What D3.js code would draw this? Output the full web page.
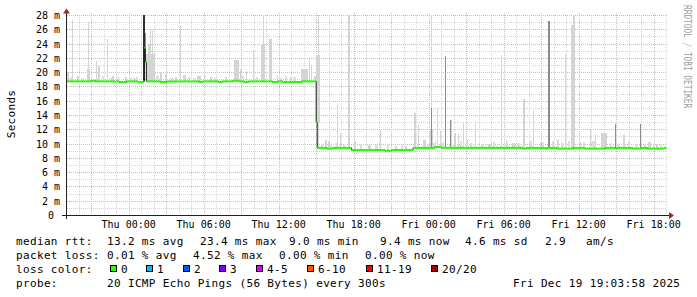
<!DOCTYPE html>
<html><head><meta charset="utf-8">
<script src="https://cdn.jsdelivr.net/npm/d3@7/dist/d3.min.js"></script>
<style>
html,body{margin:0;padding:0;background:#fff;}
svg{display:block;}
text{font-family:"DejaVu Sans Mono",monospace;fill:#000;white-space:pre;}
</style></head><body>
<svg id="c" width="697" height="297"></svg>
<script>
// ---------------- DATA ----------------
const timeRange = ["2025-12-17T19:03:58Z", "2025-12-19T19:03:58Z"];
const yTickValues = [0, 2, 4, 6, 8, 10, 12, 14, 16, 18, 20, 22, 24, 26, 28];
const yTickLabels = ["0 ", "2 m", "4 m", "6 m", "8 m", "10 m", "12 m", "14 m", "16 m", "18 m", "20 m", "22 m", "24 m", "26 m", "28 m"];

// median RTT (ms), step values starting at the given time (UTC)
const medianTimes = [
 "2025-12-17T19:04","2025-12-17T21:00","2025-12-17T21:20","2025-12-17T23:15","2025-12-17T23:50",
 "2025-12-18T00:45","2025-12-18T01:10","2025-12-18T01:15","2025-12-18T01:20","2025-12-18T01:25",
 "2025-12-18T02:30","2025-12-18T03:05","2025-12-18T05:40","2025-12-18T05:55","2025-12-18T07:10",
 "2025-12-18T07:30","2025-12-18T08:20","2025-12-18T08:50","2025-12-18T09:15","2025-12-18T09:35",
 "2025-12-18T11:30","2025-12-18T11:55","2025-12-18T12:20","2025-12-18T13:50","2025-12-18T15:00",
 "2025-12-18T15:05","2025-12-18T15:50","2025-12-18T16:20","2025-12-18T17:50","2025-12-18T20:30",
 "2025-12-18T21:00","2025-12-18T22:45","2025-12-19T00:30","2025-12-19T01:00","2025-12-19T07:30",
 "2025-12-19T07:50","2025-12-19T09:20","2025-12-19T09:30","2025-12-19T10:15","2025-12-19T11:35",
 "2025-12-19T12:30","2025-12-19T14:10","2025-12-19T16:20","2025-12-19T17:00","2025-12-19T17:30",
 "2025-12-19T18:50","2025-12-19T19:00"
];
const medianValues = [
 18.7,18.8,18.7,18.6,18.7,
 18.6,18.7,23.4,21.4,18.7,
 18.6,18.7,18.6,18.7,18.6,
 18.7,18.8,18.7,18.6,18.7,
 18.6,18.7,18.6,18.7,13.0,
 9.4,9.3,9.4,9.1,9.0,
 9.1,9.4,9.5,9.4,9.3,
 9.4,9.3,9.4,9.3,9.4,
 9.3,9.4,9.3,9.4,9.3,
 9.4,null
];

// packet loss (pings lost of 20) for samples that were not 0
const lossTimes = ["2025-12-19T14:55"];
const lossValues = [1];

// smoke: outer (max ping) spikes: time, top ms, number of 5-min samples
const smokeOuterTimes = [
 "2025-12-17T19:05","2025-12-17T19:30","2025-12-17T19:50","2025-12-17T20:40","2025-12-17T20:45","2025-12-17T21:25",
 "2025-12-17T21:35","2025-12-17T22:15","2025-12-17T22:40","2025-12-17T23:40","2025-12-18T00:20","2025-12-18T01:25",
 "2025-12-18T01:35","2025-12-18T01:40","2025-12-18T01:50","2025-12-18T02:30","2025-12-18T02:55","2025-12-18T03:40",
 "2025-12-18T04:05","2025-12-18T04:20","2025-12-18T05:30","2025-12-18T06:30","2025-12-18T08:25","2025-12-18T08:55",
 "2025-12-18T09:25","2025-12-18T09:55","2025-12-18T10:35","2025-12-18T10:45","2025-12-18T11:15","2025-12-18T11:50",
 "2025-12-18T12:55","2025-12-18T13:45","2025-12-18T14:25","2025-12-18T14:35","2025-12-18T14:50","2025-12-18T15:00",
 "2025-12-18T15:10","2025-12-18T15:40","2025-12-18T15:55","2025-12-18T16:40","2025-12-18T16:55","2025-12-18T17:35",
 "2025-12-18T18:00","2025-12-18T19:10","2025-12-18T20:05","2025-12-18T21:20","2025-12-18T22:05","2025-12-18T22:50",
 "2025-12-18T23:10","2025-12-18T23:35","2025-12-19T00:05","2025-12-19T00:10","2025-12-19T00:30","2025-12-19T00:40",
 "2025-12-19T00:55","2025-12-19T01:20","2025-12-19T01:40","2025-12-19T02:00","2025-12-19T02:20","2025-12-19T02:45",
 "2025-12-19T03:05","2025-12-19T03:40","2025-12-19T04:45","2025-12-19T05:45","2025-12-19T06:40","2025-12-19T07:35",
 "2025-12-19T08:20","2025-12-19T08:55","2025-12-19T09:35","2025-12-19T10:15","2025-12-19T10:55","2025-12-19T11:25",
 "2025-12-19T11:35","2025-12-19T12:05","2025-12-19T12:55","2025-12-19T13:20","2025-12-19T13:45","2025-12-19T14:55",
 "2025-12-19T15:35","2025-12-19T16:55","2025-12-19T17:35","2025-12-19T18:10"
];
const smokeOuterValues = [
 20.0,27.3,19.5,20.5,27.0,21.5,
 20.8,24.6,19.4,19.3,19.2,22.6,
 24.0,25.9,25.9,20.0,19.8,19.3,
 26.4,19.6,19.5,19.3,21.7,20.5,
 20.1,23.1,24.0,28.0,24.6,19.6,
 19.3,20.5,21.9,20.8,19.5,22.4,
 28.0,10.5,10.4,15.4,11.5,28.0,
 10.3,9.8,11.9,9.7,9.7,14.3,
 12.6,10.5,12.0,28.0,10.3,15.0,
 11.7,22.2,13.3,11.5,11.3,13.0,
 10.5,12.9,9.9,22.4,10.1,16.3,
 14.7,10.2,27.2,10.5,22.6,26.6,
 28.0,10.2,12.1,11.2,11.5,12.8,
 11.2,12.8,10.2,10.0
];
const smokeOuterSamples = [
 2,1,2,3,1,1,
 1,1,2,2,2,8,
 1,1,1,2,2,2,
 1,3,3,2,5,1,
 1,1,4,1,3,1,
 2,7,1,1,2,4,
 1,2,2,1,1,1,
 2,3,1,2,2,2,
 1,2,3,1,1,1,
 1,1,2,2,1,1,
 1,1,3,1,3,1,
 1,1,1,2,1,2,
 1,1,1,1,6,1,
 1,1,2,2
];
// smoke: small upper-quartile bumps just above the median
const smokeLowTimes = [
 "2025-12-17T19:20","2025-12-17T20:10","2025-12-17T21:50","2025-12-17T22:30","2025-12-17T23:05","2025-12-18T00:00",
 "2025-12-18T00:35","2025-12-18T02:10","2025-12-18T03:20","2025-12-18T04:45","2025-12-18T05:10","2025-12-18T06:00",
 "2025-12-18T06:50","2025-12-18T07:40","2025-12-18T09:00","2025-12-18T10:10","2025-12-18T12:00","2025-12-18T12:30",
 "2025-12-18T13:10","2025-12-18T15:25","2025-12-18T16:05","2025-12-18T16:30","2025-12-18T17:10","2025-12-18T18:30",
 "2025-12-18T19:40","2025-12-18T20:40","2025-12-18T21:45","2025-12-18T23:50","2025-12-19T00:20","2025-12-19T01:05",
 "2025-12-19T01:55","2025-12-19T02:30","2025-12-19T03:20","2025-12-19T04:10","2025-12-19T05:10","2025-12-19T06:10",
 "2025-12-19T07:05","2025-12-19T08:05","2025-12-19T09:05","2025-12-19T09:50","2025-12-19T10:35","2025-12-19T11:10",
 "2025-12-19T12:20","2025-12-19T13:05","2025-12-19T14:30","2025-12-19T15:10","2025-12-19T15:55","2025-12-19T16:30",
 "2025-12-19T17:15","2025-12-19T17:55","2025-12-19T18:30"
];
const smokeLowValues = [
 19.3,19.2,19.4,19.2,19.3,19.2,
 19.3,19.4,19.2,19.3,19.2,19.4,
 19.2,19.3,19.4,19.3,19.2,19.4,
 19.3,10.0,9.9,10.1,9.8,9.9,
 9.8,9.9,9.8,10.0,10.1,10.2,
 10.0,10.3,10.1,10.0,10.2,10.4,
 10.1,10.3,10.2,10.4,10.1,10.3,
 10.2,10.4,10.1,10.0,10.3,10.0,
 9.9,10.1,9.9
];
const smokeLowSamples = [
 2,3,2,3,2,3,
 2,3,3,2,3,2,
 3,2,3,2,3,2,
 3,2,2,3,2,2,
 3,2,2,2,2,2,
 2,2,2,3,2,2,
 3,2,2,2,3,2,
 2,3,2,2,2,3,
 2,2,2
];
// smoke: inner (denser pings) darker parts
const smokeInnerTimes = ["2025-12-18T01:20","2025-12-19T00:10","2025-12-19T01:20","2025-12-19T01:40","2025-12-19T09:35","2025-12-19T14:55","2025-12-19T16:55"];
const smokeInnerValues = [25.5, 15.0, 22.2, 13.3, 27.2, 12.8, 12.8];
// smoke: core (all pings high)
const smokeCoreTimes = ["2025-12-18T01:10"];
const smokeCoreValues = [28.0];
const smokeCoreSamples = [2];

// legend
const statRow1 = ["median rtt:", "13.2 ms avg", "23.4 ms max", "9.0 ms min", "9.4 ms now", "4.6 ms sd", "2.9", "am/s"];
const statRow2 = ["packet loss:", "0.01 % avg", "4.52 % max", "0.00 % min", "0.00 % now"];
const lossLabels = ["0", "1", "2", "3", "4-5", "6-10", "11-19", "20/20"];
const lossColors = ["#26ff00", "#00b8ff", "#0059ff", "#7e00ff", "#dd00ff", "#ff5500", "#ff0000", "#a00000"];
const probeRow = ["probe:", "20 ICMP Echo Pings (56 Bytes) every 300s", "Fri Dec 19 19:03:58 2025"];
const yTitle = "Seconds";
const watermark = "RRDTOOL / TOBI OETIKER";

// ---------------- DRAW ----------------
const parse = s => new Date(s.length === 16 ? s + ":00Z" : s);
const svg = d3.select("#c");
const x = d3.scaleUtc().domain(timeRange.map(parse)).range([67, 667]);
const y = d3.scaleLinear().domain([0, 28]).range([215, 15]);
const STEP = 5 * 60 * 1000;

const median = medianTimes.map((t, i) => ({t: parse(t), v: medianValues[i]}));
const bis = d3.bisector(d => d.t).right;
function medAt(t) { const i = Math.max(0, bis(median, t) - 1); return median[i].v; }

// grid
const gGrid = svg.append("g").attr("shape-rendering", "crispEdges");
const hours = d3.utcHour.every(1).range(x.domain()[0], x.domain()[1]);
const minorY = d3.range(1, 28, 2);
gGrid.selectAll("line.hmin").data(minorY).join("line")
  .attr("x1", 67).attr("x2", 667).attr("y1", d => Math.round(y(d)) + 0.5).attr("y2", d => Math.round(y(d)) + 0.5)
  .attr("stroke", "#d4d4d4").attr("stroke-dasharray", "1,1");
gGrid.selectAll("line.vmin").data(hours.filter(h => h.getUTCHours() % 3 !== 0)).join("line")
  .attr("x1", d => Math.round(x(d)) + 0.5).attr("x2", d => Math.round(x(d)) + 0.5).attr("y1", 15).attr("y2", 215)
  .attr("stroke", "#d4d4d4").attr("stroke-dasharray", "1,1");
gGrid.selectAll("line.hmaj").data(yTickValues.filter(v => v > 0)).join("line")
  .attr("x1", 67).attr("x2", 667).attr("y1", d => Math.round(y(d)) + 0.5).attr("y2", d => Math.round(y(d)) + 0.5)
  .attr("stroke", "#e9adad").attr("stroke-dasharray", "1,1");
gGrid.selectAll("line.vmaj").data(hours.filter(h => h.getUTCHours() % 3 === 0)).join("line")
  .attr("x1", d => Math.round(x(d)) + 0.5).attr("x2", d => Math.round(x(d)) + 0.5).attr("y1", 13).attr("y2", 215)
  .attr("stroke", "#e9adad").attr("stroke-dasharray", "1,1");

// smoke
const gSmoke = svg.append("g").attr("shape-rendering", "crispEdges");
function smoke(times, values, samples, color) {
  const d = times.map((t, i) => ({t: parse(t), v: values[i], n: samples ? samples[i] : 1}));
  gSmoke.append("g").selectAll("rect").data(d).join("rect")
    .attr("x", d => x(d.t))
    .attr("width", d => Math.max(1, x(new Date(+d.t + d.n * STEP)) - x(d.t)))
    .attr("y", d => y(d.v))
    .attr("height", d => Math.max(0, y(medAt(d.t)) - y(d.v)))
    .attr("fill", color);
}
smoke(smokeLowTimes, smokeLowValues, smokeLowSamples, "#dedede");
smoke(smokeOuterTimes, smokeOuterValues, smokeOuterSamples, "#d4d4d4");
smoke(smokeInnerTimes, smokeInnerValues, null, "#8c8c8c");
smoke(smokeCoreTimes, smokeCoreValues, smokeCoreSamples, "#2e2e2e");

// median: dark step line + loss-coloured horizontal segments
const stepPts = median.map((d, i) => [x(d.t), y(d.v == null ? median[i - 1].v : d.v)]);
svg.append("path").attr("d", d3.line().curve(d3.curveStepAfter)(stepPts))
  .attr("fill", "none").attr("stroke", "#202020").attr("stroke-width", 1);
const segs = median.slice(0, -1).map((d, i) => ({t0: d.t, t1: median[i + 1].t, v: d.v}));
svg.append("g").selectAll("line").data(segs).join("line")
  .attr("x1", d => x(d.t0)).attr("x2", d => x(d.t1))
  .attr("y1", d => y(d.v)).attr("y2", d => y(d.v))
  .attr("stroke", lossColors[0]).attr("stroke-width", 2);
const loss = lossTimes.map((t, i) => ({t: parse(t), n: lossValues[i]}));
function lossIdx(n) { return n <= 3 ? n : n <= 5 ? 4 : n <= 10 ? 5 : n <= 19 ? 6 : 7; }
svg.append("g").selectAll("line").data(loss).join("line")
  .attr("x1", d => x(d.t)).attr("x2", d => x(new Date(+d.t + STEP)))
  .attr("y1", d => y(medAt(d.t))).attr("y2", d => y(medAt(d.t)))
  .attr("stroke", d => lossColors[lossIdx(d.n)]).attr("stroke-width", 2);

// axes
const axisG = svg.append("g").attr("shape-rendering", "crispEdges");
axisG.append("line").attr("x1", 66.5).attr("x2", 66.5).attr("y1", 13).attr("y2", 219).attr("stroke", "#202020");
axisG.append("line").attr("x1", 62).attr("x2", 669).attr("y1", 215.5).attr("y2", 215.5).attr("stroke", "#202020");
svg.append("path").attr("d", "M66.5,8.5L63,13.5L70,13.5Z").attr("fill", "#a02828");
svg.append("path").attr("d", "M674,215.5L669,212L669,219Z").attr("fill", "#a02828");

// y tick labels
svg.append("g").selectAll("text").data(yTickValues).join("text")
  .attr("x", 60).attr("y", d => y(d) + 4).attr("text-anchor", "end")
  .style("font-size", "10px").text((d, i) => yTickLabels[i]);
// x tick labels
const xt = hours.filter(h => h.getUTCHours() % 6 === 0);
svg.append("g").selectAll("text").data(xt).join("text")
  .attr("x", d => x(d)).attr("y", 228).attr("text-anchor", "middle")
  .style("font-size", "10px").text(d3.utcFormat("%a %H:%M"));

// titles
svg.append("text").attr("transform", "translate(15,114) rotate(-90)").attr("text-anchor", "middle")
  .style("font-size", "11px").style("letter-spacing", "0.3px").text(yTitle);
svg.append("text").attr("transform", "translate(684,5) rotate(90) scale(0.78,1)")
  .style("font-size", "10px").style("fill", "#a0a0a0").text(watermark);

// legend
function row(items, xs, yy) {
  items.forEach((s, i) => svg.append("text").attr("x", xs[i]).attr("y", yy)
    .style("font-size", "11px").style("letter-spacing", "0.35px").text(s));
}
row(statRow1, [16, 107, 200, 289, 380, 465, 545, 586], 245);
row(statRow2, [16, 107, 193, 279, 365], 259);
row(["loss color:"], [16], 273);
const boxX = [110, 146, 182.7, 219.3, 256, 307.3, 365.7, 430.7];
lossLabels.forEach((l, i) => {
  svg.append("rect").attr("x", Math.round(boxX[i]) + 0.5).attr("y", 265.5).attr("width", 6).attr("height", 6)
    .attr("fill", lossColors[i]).attr("stroke", "#000").attr("shape-rendering", "crispEdges");
  row([l], [Math.round(boxX[i]) + 11], 273);
});
row(probeRow, [16, 107, 513], 287);
</script>
</body></html>
